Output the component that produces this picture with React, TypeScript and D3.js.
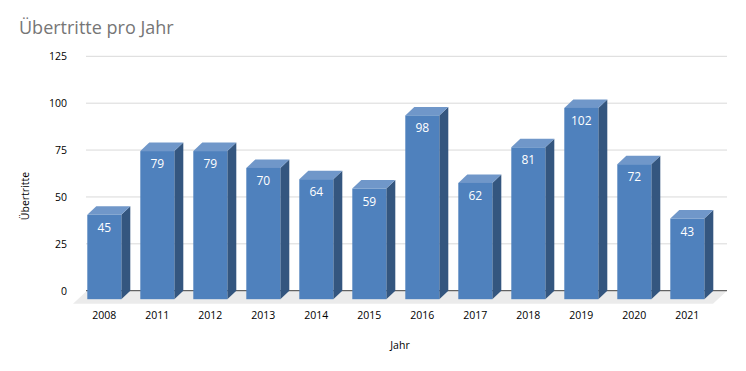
import React from "react";
import * as d3 from "d3";

const years = ["2008", "2011", "2012", "2013", "2014", "2015", "2016", "2017", "2018", "2019", "2020", "2021"];
const values = [45, 79, 79, 70, 64, 59, 98, 62, 81, 102, 72, 43];
const yTicks = [0, 25, 50, 75, 100, 125];

const W = 746;
const H = 371;
const FONT = "'Open Sans', 'Noto Sans', sans-serif";

export default function App() {
  const y = d3.scaleLinear().domain([0, 125]).range([290.7, 56.3]);
  const x = d3.scaleBand<string>().domain(years).range([87, 87 + 12 * 53]).paddingInner(0).paddingOuter(0);
  const bw = 34;
  const dx = 9;
  const dy = 8.5;
  const backLeft = 87;
  const backRight = 727;
  const floorDx = 14;
  const floorDy = 13;
  const y0 = y(0);

  const floor = `M${backLeft},${y0} L${backRight},${y0} L${backRight - floorDx},${y0 + floorDy} L${backLeft - floorDx},${y0 + floorDy} Z`;

  return (
    <svg width={W} height={H} style={{ position: "absolute", left: 0, top: 0, background: "#fff" }}>
      <text x={19} y={34} fontFamily={FONT} fontSize={18} fill="#767676">Übertritte pro Jahr</text>
      <path d={floor} fill="#ebebeb" />
      {yTicks.map((t) => (
        <g key={t}>
          {t > 0 && <line x1={86} x2={backRight} y1={y(t)} y2={y(t)} stroke="#d9d9d9" strokeWidth={1} />}
          <text x={67} y={y(t) + 4} textAnchor="end" fontFamily={FONT} fontSize={10.5} fill="#000">{t}</text>
        </g>
      ))}
      <line x1={86} x2={backRight} y1={y0} y2={y0} stroke="#404040" strokeWidth={1} />
      {years.map((yr, i) => {
        const fx = (x(yr) as number) + 0.3;
        const ftop = y(values[i]) + dy;
        const fbot = y0 + dy;
        const side = `M${fx + bw},${ftop} L${fx + bw + dx},${ftop - dy} L${fx + bw + dx},${fbot - dy} L${fx + bw},${fbot} Z`;
        const top = `M${fx},${ftop} L${fx + dx},${ftop - dy} L${fx + bw + dx},${ftop - dy} L${fx + bw},${ftop} Z`;
        return (
          <g key={yr}>
            <path d={side} fill="#34567f" />
            <path d={top} fill="#7097c9" />
            <rect x={fx} y={ftop} width={bw} height={fbot - ftop} fill="#4f81bd" />
            <text x={fx + bw / 2} y={ftop + 17} textAnchor="middle" fontFamily={FONT} fontSize={12} fill="#fff">{values[i]}</text>
            <text x={fx + bw / 2} y={319} textAnchor="middle" fontFamily={FONT} fontSize={10.5} fill="#000">{yr}</text>
          </g>
        );
      })}
      <text transform={`translate(29,196) rotate(-90)`} textAnchor="middle" fontFamily={FONT} fontSize={10.5} fill="#000">Übertritte</text>
      <text x={400} y={349} textAnchor="middle" fontFamily={FONT} fontSize={10.5} fill="#000">Jahr</text>
    </svg>
  );
}
